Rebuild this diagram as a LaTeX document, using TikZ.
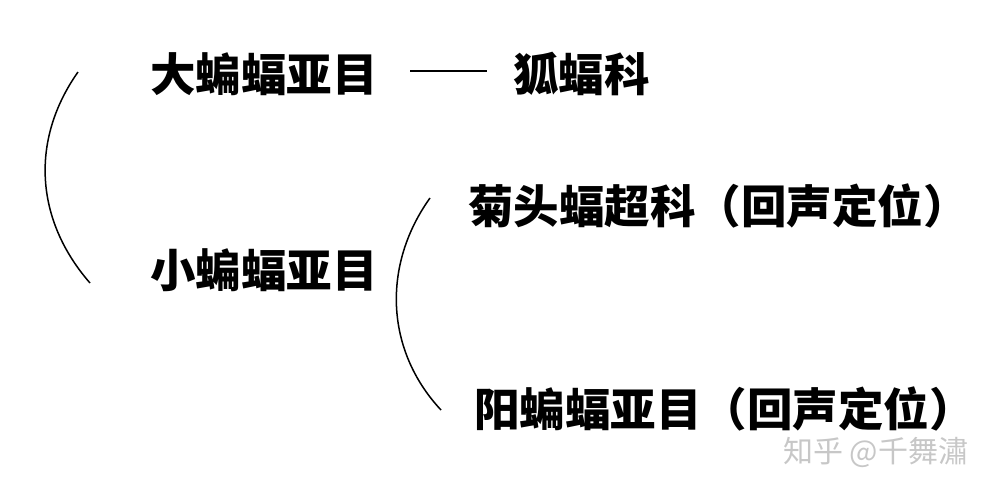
\documentclass[tikz,border=0pt]{standalone}
\usepackage{fontspec}
\newfontfamily\cjk{Noto Sans CJK SC}
\tikzset{
  lbl/.style={anchor=west, inner sep=0pt, font=\cjk\bfseries\fontsize{45.5}{50}\selectfont, text=black},
  wm/.style={anchor=west, inner sep=0pt, font=\cjk\fontsize{30}{33}\selectfont, text=black!22},
  arcline/.style={line width=1.5pt, black},
}
\begin{document}
\begin{tikzpicture}[x=1pt, y=-1pt]
\useasboundingbox (0,0) rectangle (996,490);
\node[lbl] (big) at (150,74) {大蝙蝠亚目};
\node[lbl] (fox) at (513,74) {狐蝠科};
\node[lbl] (rhino) at (468,206) {菊头蝠超科（回声定位）};
\node[lbl] (small) at (150,270) {小蝙蝠亚目};
\node[lbl] (yang) at (474,409) {阳蝙蝠亚目（回声定位）};
\node[wm] (mark) at (783,452) {知乎 @千舞潚};
\coordinate (l1) at (78,72);
\coordinate (l2) at (90,283);
\coordinate (r1) at (430,198);
\coordinate (r2) at (441,410);
\coordinate (h1) at (410,71);
\coordinate (h2) at (487,71);
\draw[arcline] (l1) .. controls (30,140) and (35,220) .. (l2);
\draw[arcline] (r1) .. controls (382,265) and (385,350) .. (r2);
\draw[arcline] (h1) -- (h2);
\end{tikzpicture}
\end{document}
